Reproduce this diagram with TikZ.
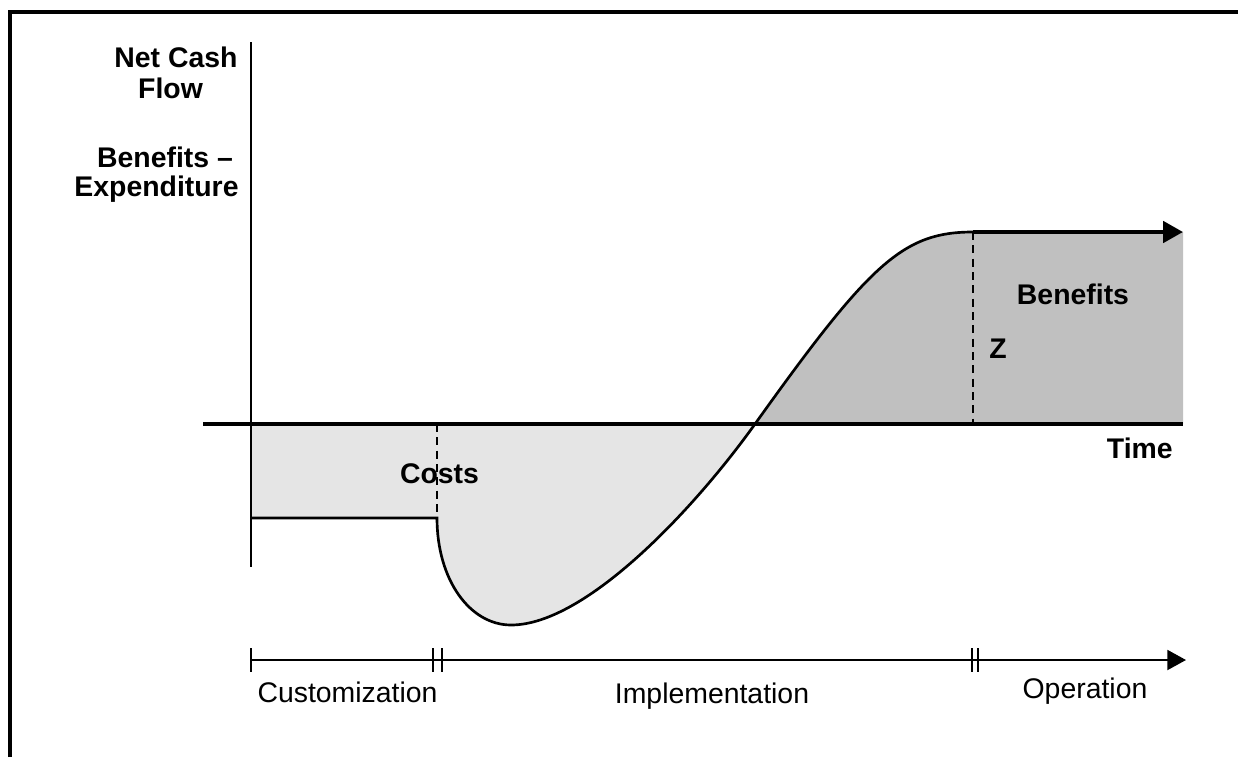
\documentclass[tikz,border=0pt]{standalone}
\usepackage{fontspec}
\setmainfont{Liberation Sans}
\usetikzlibrary{arrows.meta}
\definecolor{costgrey}{HTML}{E5E5E5}
\definecolor{benefitgrey}{HTML}{C0C0C0}
\begin{document}
\begin{tikzpicture}[x=0.75pt,y=-0.75pt,
  lbl/.style={font=\fontsize{21.3}{23}\selectfont\bfseries, inner sep=0pt, anchor=base},
  reg/.style={font=\fontsize{21.3}{23}\selectfont, inner sep=0pt, anchor=base},
  curveln/.style={line width=2pt},
  dashln/.style={line width=0.9pt, dash pattern=on 6pt off 4pt},
  tickln/.style={line width=1.1pt},
  bigtip/.style={-{Triangle[length=15pt,width=16pt]}}
]
\useasboundingbox (0,0) rectangle (1238,757);
% coordinates
\coordinate (yb) at (251,567);
\coordinate (yt) at (251,42);
\coordinate (xl) at (203,424);
\coordinate (xr) at (1183,424);
\coordinate (ca) at (251,518);
\coordinate (cb) at (437,518);
\coordinate (cc) at (437,424);
\coordinate (mn) at (511,625);
\coordinate (cr) at (755,424);
\coordinate (tp) at (973,232);
\coordinate (tz) at (973,424);
\coordinate (ar) at (1183,232);
% fills
\fill[costgrey] (251,424) -- (ca) -- (cb) .. controls (437,580) and (470,625) .. (mn)
  .. controls (586,625) and (695,508) .. (cr) -- cycle;
\fill[benefitgrey] (cr) .. controls (870,263) and (903,232) .. (tp) -- (ar) -- (xr) -- cycle;
% dashed separators
\draw[dashln] (tp) -- (tz);
% frame
\draw[line width=3pt] (10,757) -- (10,12) -- (1238,12);
% axes
\draw[line width=1.5pt] (yt) -- (yb);
\draw[line width=3pt] (xl) -- (xr);
% curve
\draw[curveln] (ca) -- (cb) .. controls (437,580) and (470,625) .. (mn)
  .. controls (586,625) and (695,508) .. (cr)
  .. controls (870,263) and (903,232) .. (tp);
\draw[line width=3pt, bigtip] (tp) -- (ar);
% timeline
\coordinate (t0) at (251,660);
\coordinate (t1) at (1186,660);
\draw[line width=1.5pt, -{Triangle[length=14pt,width=15pt]}] (t0) -- (t1);
\foreach \xx/\nm in {251/k1,433/k2,442/k3,972/k4,978/k5}{
  \coordinate (\nm a) at (\xx,648);
  \coordinate (\nm b) at (\xx,672);
  \draw[tickln] (\nm a) -- (\nm b);
}
% labels
\node[lbl] (ncf1) at (176,67) {Net Cash};
\node[lbl] (ncf2) at (170.5,98) {Flow};
\node[lbl] (be1) at (165,167) {Benefits –};
\node[lbl] (be2) at (156.5,196) {Expenditure};
\node[lbl] (ben) at (1073,304) {Benefits};
\node[lbl] (zz) at (998,358) {Z};
\node[lbl, anchor=base east] (time) at (1173,458) {Time};
\node[lbl] (costs) at (439.5,483) {Costs};
\draw[dashln] (cc) -- (cb);
\node[reg] (cust) at (347.5,702) {Customization};
\node[reg] (impl) at (712,703) {Implementation};
\node[reg] (oper) at (1085,698) {Operation};
\end{tikzpicture}
\end{document}
